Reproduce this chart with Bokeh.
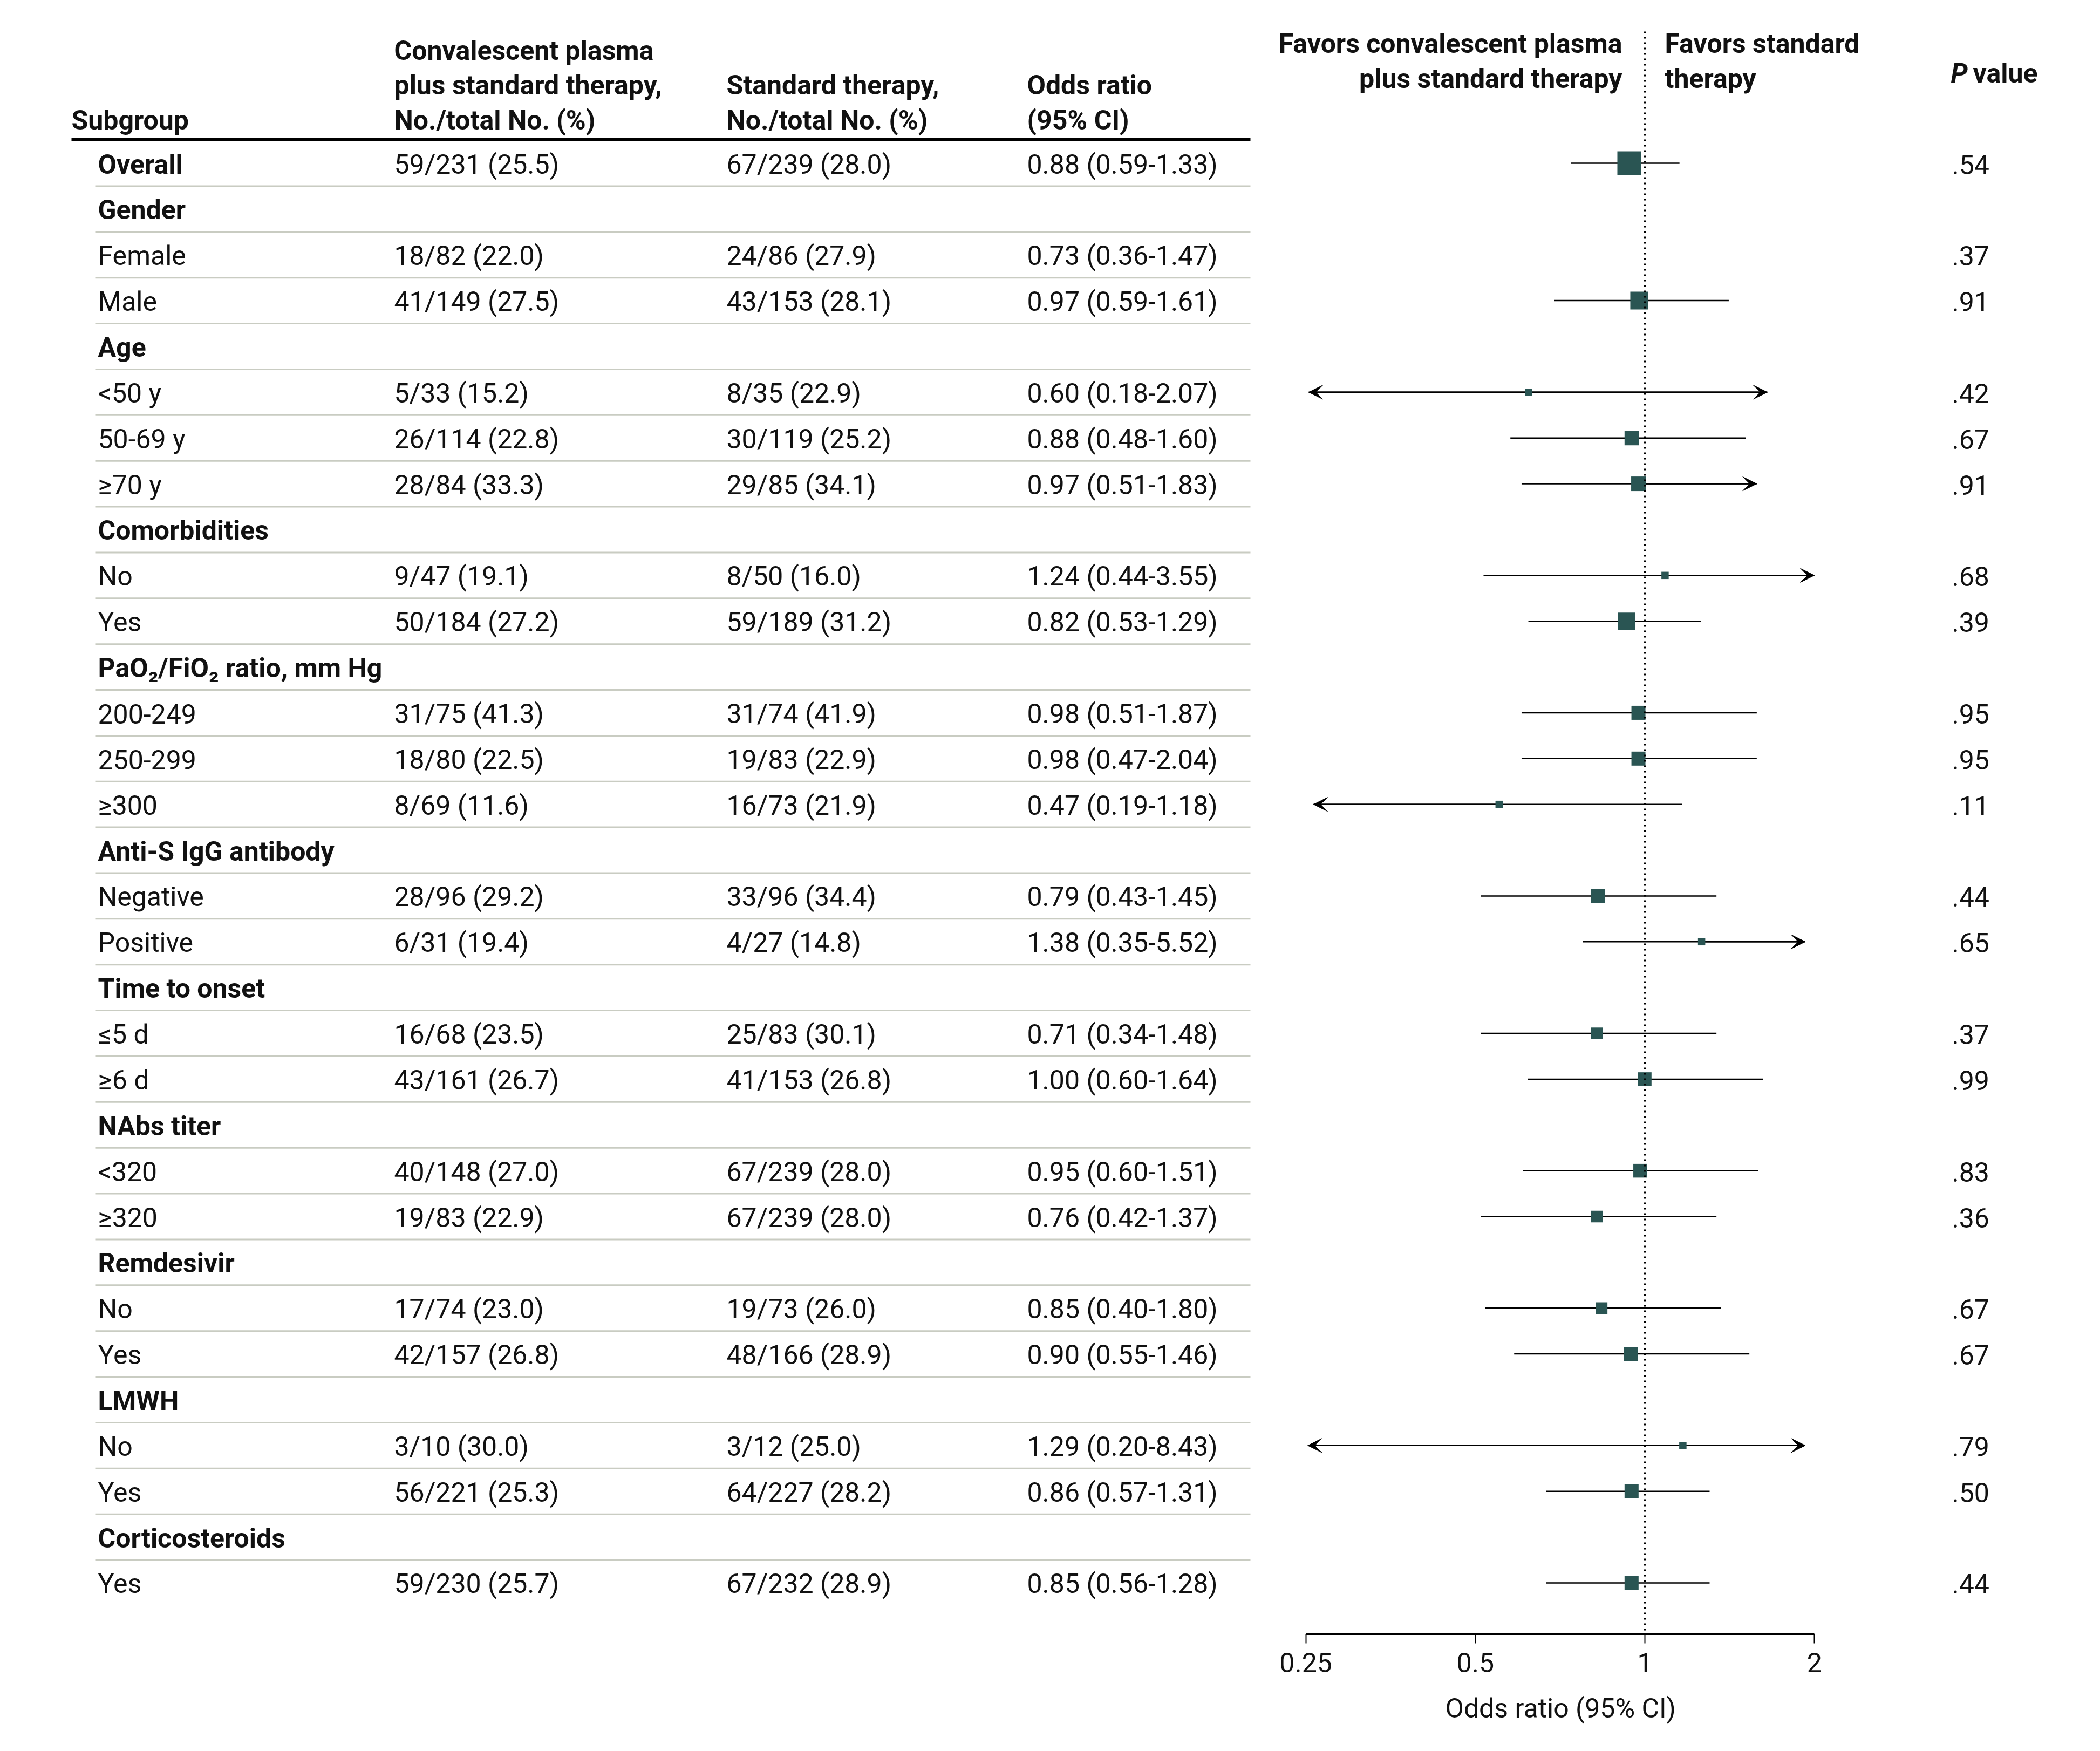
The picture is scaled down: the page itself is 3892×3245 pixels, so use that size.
import math
from bokeh.plotting import figure
from bokeh.models import (Range1d, LogScale, LogAxis, FixedTicker, ColumnDataSource,
                          Arrow, VeeHead, Title, CustomJSTickFormatter)
from bokeh.core.properties import value
from bokeh.embed import file_html
from bokeh.resources import INLINE

# ---------------- data ----------------
labels = ["Overall", "Gender", "Female", "Male", "Age", "<50 y", "50-69 y", "≥70 y",
          "Comorbidities", "No", "Yes", "PaO₂/FiO₂ ratio, mm Hg", "200-249", "250-299", "≥300",
          "Anti-S IgG antibody", "Negative", "Positive", "Time to onset", "≤5 d", "≥6 d",
          "NAbs titer", "<320", "≥320", "Remdesivir", "No", "Yes", "LMWH", "No", "Yes",
          "Corticosteroids", "Yes"]
is_group = [1, 1, 0, 0, 1, 0, 0, 0, 1, 0, 0, 1, 0, 0, 0, 1, 0, 0, 1, 0, 0, 1, 0, 0, 1, 0, 0, 1, 0, 0, 1, 0]
plasma_txt = ["59/231 (25.5)", "", "18/82 (22.0)", "41/149 (27.5)", "", "5/33 (15.2)", "26/114 (22.8)",
              "28/84 (33.3)", "", "9/47 (19.1)", "50/184 (27.2)", "", "31/75 (41.3)", "18/80 (22.5)",
              "8/69 (11.6)", "", "28/96 (29.2)", "6/31 (19.4)", "", "16/68 (23.5)", "43/161 (26.7)",
              "", "40/148 (27.0)", "19/83 (22.9)", "", "17/74 (23.0)", "42/157 (26.8)", "",
              "3/10 (30.0)", "56/221 (25.3)", "", "59/230 (25.7)"]
standard_txt = ["67/239 (28.0)", "", "24/86 (27.9)", "43/153 (28.1)", "", "8/35 (22.9)", "30/119 (25.2)",
                "29/85 (34.1)", "", "8/50 (16.0)", "59/189 (31.2)", "", "31/74 (41.9)", "19/83 (22.9)",
                "16/73 (21.9)", "", "33/96 (34.4)", "4/27 (14.8)", "", "25/83 (30.1)", "41/153 (26.8)",
                "", "67/239 (28.0)", "67/239 (28.0)", "", "19/73 (26.0)", "48/166 (28.9)", "",
                "3/12 (25.0)", "64/227 (28.2)", "", "67/232 (28.9)"]
or_txt = ["0.88 (0.59-1.33)", "", "0.73 (0.36-1.47)", "0.97 (0.59-1.61)", "", "0.60 (0.18-2.07)",
          "0.88 (0.48-1.60)", "0.97 (0.51-1.83)", "", "1.24 (0.44-3.55)", "0.82 (0.53-1.29)", "",
          "0.98 (0.51-1.87)", "0.98 (0.47-2.04)", "0.47 (0.19-1.18)", "", "0.79 (0.43-1.45)",
          "1.38 (0.35-5.52)", "", "0.71 (0.34-1.48)", "1.00 (0.60-1.64)", "", "0.95 (0.60-1.51)",
          "0.76 (0.42-1.37)", "", "0.85 (0.40-1.80)", "0.90 (0.55-1.46)", "", "1.29 (0.20-8.43)",
          "0.86 (0.57-1.31)", "", "0.85 (0.56-1.28)"]
p_txt = [".54", "", ".37", ".91", "", ".42", ".67", ".91", "", ".68", ".39", "", ".95", ".95", ".11",
         "", ".44", ".65", "", ".37", ".99", "", ".83", ".36", "", ".67", ".67", "", ".79", ".50", "", ".44"]

# plotted estimates as drawn in the figure (None = nothing drawn)
or_plot = [0.938, None, None, 0.977, None, 0.622, 0.948, 0.974, None, 1.086, 0.927, None, 0.974, 0.974,
           0.551, None, 0.825, 1.261, None, 0.822, 0.999, None, 0.981, 0.822, None, 0.838, 0.944, None,
           1.168, 0.947, None, 0.947]
lo_plot = [0.739, None, None, 0.690, None, 0.253, 0.577, 0.604, None, 0.517, 0.621, None, 0.604, 0.604,
           0.258, None, 0.511, 0.776, None, 0.511, 0.619, None, 0.608, 0.511, None, 0.521, 0.586, None,
           0.252, 0.668, None, 0.668]
hi_plot = [1.152, None, None, 1.409, None, 1.65, 1.512, 1.58, None, 2.0, 1.257, None, 1.58, 1.58,
           1.164, None, 1.34, 1.927, None, 1.34, 1.621, None, 1.59, 1.34, None, 1.366, 1.533, None,
           1.927, 1.303, None, 1.303]
arrow_left = [0, 0, 0, 0, 0, 1, 0, 0, 0, 0, 0, 0, 0, 0, 1, 0, 0, 0, 0, 0, 0, 0, 0, 0, 0, 0, 0, 0, 1, 0, 0, 0]
arrow_right = [0, 0, 0, 0, 0, 1, 0, 1, 0, 1, 0, 0, 0, 0, 0, 0, 0, 1, 0, 0, 0, 0, 0, 0, 0, 0, 0, 0, 1, 0, 0, 0]
box_px = [44, 0, 0, 33, 0, 13.5, 27, 27, 0, 13.5, 32, 0, 26, 26, 13.5, 0, 26, 13.5, 0, 21.5, 25.5, 0,
          25.5, 21.5, 0, 21.5, 26, 0, 13.5, 26, 0, 26]

ticks = [0.25, 0.5, 1, 2]

# ---------------- layout constants ----------------
W, H = 3876, 3229
FRAME_H = 3028
AXIS_H = H - FRAME_H
ROW0 = 302.0
ROW_H = 84.87
ONE_X = 3048.0
OCT = 314.2
FONT = "Roboto"
FS = "50px"
TXT = "#111111"
BOX = "#2a5553"
TB = -15  # baseline correction for header texts

rows = list(range(len(labels)))

p = figure(width=W, height=H, x_range=Range1d(0, W),
           y_range=Range1d((FRAME_H - ROW0) / ROW_H, -ROW0 / ROW_H),
           output_backend="svg", toolbar_location=None,
           x_axis_location=None, y_axis_location=None,
           min_border_left=0, min_border_right=0, min_border_top=0, min_border_bottom=AXIS_H)
p.outline_line_color = None
p.grid.visible = False
p.extra_x_ranges = {"or": Range1d(2 ** (-ONE_X / OCT), 2 ** ((W - ONE_X) / OCT))}
p.extra_x_scales = {"or": LogScale()}
p.extra_y_ranges = {"px": Range1d(FRAME_H, 0)}


def txt(x, y, text, align="left", style="normal"):
    p.text(x=x, y=[v + TB for v in y], text=text, text_align=align, text_baseline="alphabetic",
           text_font=value(FONT), text_font_size=value(FS), text_font_style=style,
           text_color=TXT, y_range_name="px")


# ---------------- table headers ----------------
txt([132], [237], ["Subgroup"], style="bold")
txt([730, 730, 730], [108, 172, 237],
    ["Convalescent plasma", "plus standard therapy,", "No./total No. (%)"], style="bold")
txt([1346, 1346], [172, 237], ["Standard therapy,", "No./total No. (%)"], style="bold")
txt([1903, 1903], [172, 237], ["Odds ratio", "(95% CI)"], style="bold")
p.segment(x0=[132], x1=[2317], y0=[258], y1=[258], line_width=5, line_color="black", y_range_name="px")

# row separators
sep_rows = [r + 0.5 for r in rows[:-1]]
p.segment(x0=[176] * len(sep_rows), x1=[2317] * len(sep_rows), y0=sep_rows, y1=sep_rows,
          line_width=3, line_color="#c9ccc2")

# row texts
grp = [r for r in rows if is_group[r]]
sub = [r for r in rows if not is_group[r]]
off = 17 + TB
p.text(x=[181] * len(grp), y=grp, text=[labels[r] for r in grp], y_offset=off,
       text_baseline="alphabetic", text_font=value(FONT), text_font_size=value(FS),
       text_font_style="bold", text_color=TXT)
p.text(x=[181] * len(sub), y=sub, text=[labels[r] for r in sub], y_offset=off,
       text_baseline="alphabetic", text_font=value(FONT), text_font_size=value(FS), text_color=TXT)
for xcol, col in [(730, plasma_txt), (1346, standard_txt), (1903, or_txt), (3617, p_txt)]:
    rr = [r for r in rows if col[r]]
    p.text(x=[xcol] * len(rr), y=rr, text=[col[r] for r in rr], y_offset=off,
           text_baseline="alphabetic", text_font=value(FONT), text_font_size=value(FS), text_color=TXT)

# forest header texts
txt([3006, 3006], [95, 160], ["Favors convalescent plasma", "plus standard therapy"], align="right", style="bold")
txt([3085, 3085], [95, 160], ["Favors standard", "therapy"], style="bold")
txt([3615], [150], ["P"], style="bold italic")
txt([3656], [150], ["value"], style="bold")

# ---------------- forest ----------------
pr = [r for r in rows if or_plot[r] is not None]
src = ColumnDataSource(dict(y=pr, est=[or_plot[r] for r in pr], lo=[lo_plot[r] for r in pr],
                            hi=[hi_plot[r] for r in pr], size=[box_px[r] for r in pr]))
p.segment(x0="lo", x1="hi", y0="y", y1="y", source=src, line_width=2.5, line_color="black",
          x_range_name="or")

for flags, end_key in [(arrow_left, lo_plot), (arrow_right, hi_plot)]:
    ar = [r for r in rows if flags[r]]
    asrc = ColumnDataSource(dict(xs=[or_plot[r] for r in ar], xe=[end_key[r] for r in ar], y=ar))
    a = Arrow(end=VeeHead(size=26, fill_color="black", line_color="black", line_width=1),
              x_start="xs", y_start="y", x_end="xe", y_end="y", source=asrc,
              x_range_name="or", line_width=2.5, line_color="black", level="underlay")
    p.add_layout(a)

p.scatter(x="est", y="y", size="size", marker="square", source=src, fill_color=BOX,
          line_color=None, x_range_name="or")

# reference line at OR = 1
p.segment(x0=[1], x1=[1], y0=[58], y1=[FRAME_H], x_range_name="or", y_range_name="px",
          line_width=3, line_color="black", line_dash="3 7")

# axis
ax = LogAxis(x_range_name="or", ticker=FixedTicker(ticks=ticks, minor_ticks=[]), bounds=(0.25, 2),
             formatter=CustomJSTickFormatter(code="return String(tick)"))
ax.axis_line_width = 3
ax.axis_line_color = "black"
ax.major_tick_line_width = 2
ax.major_tick_line_color = "black"
ax.major_tick_out = 17
ax.major_tick_in = 0
ax.minor_tick_out = 0
ax.minor_tick_in = 0
ax.major_label_text_font = FONT
ax.major_label_text_font_size = FS
ax.major_label_text_color = TXT
ax.major_label_standoff = 17
p.add_layout(ax, "below")

# axis title, centred under the 0.25-2 span
p.add_layout(Title(text="Odds ratio (95% CI)", align="left", offset=2678,
                   text_font=FONT, text_font_size=FS, text_font_style="normal",
                   text_color=TXT, standoff=66), "below")

open("out.html", "w").write(file_html(p, INLINE))
